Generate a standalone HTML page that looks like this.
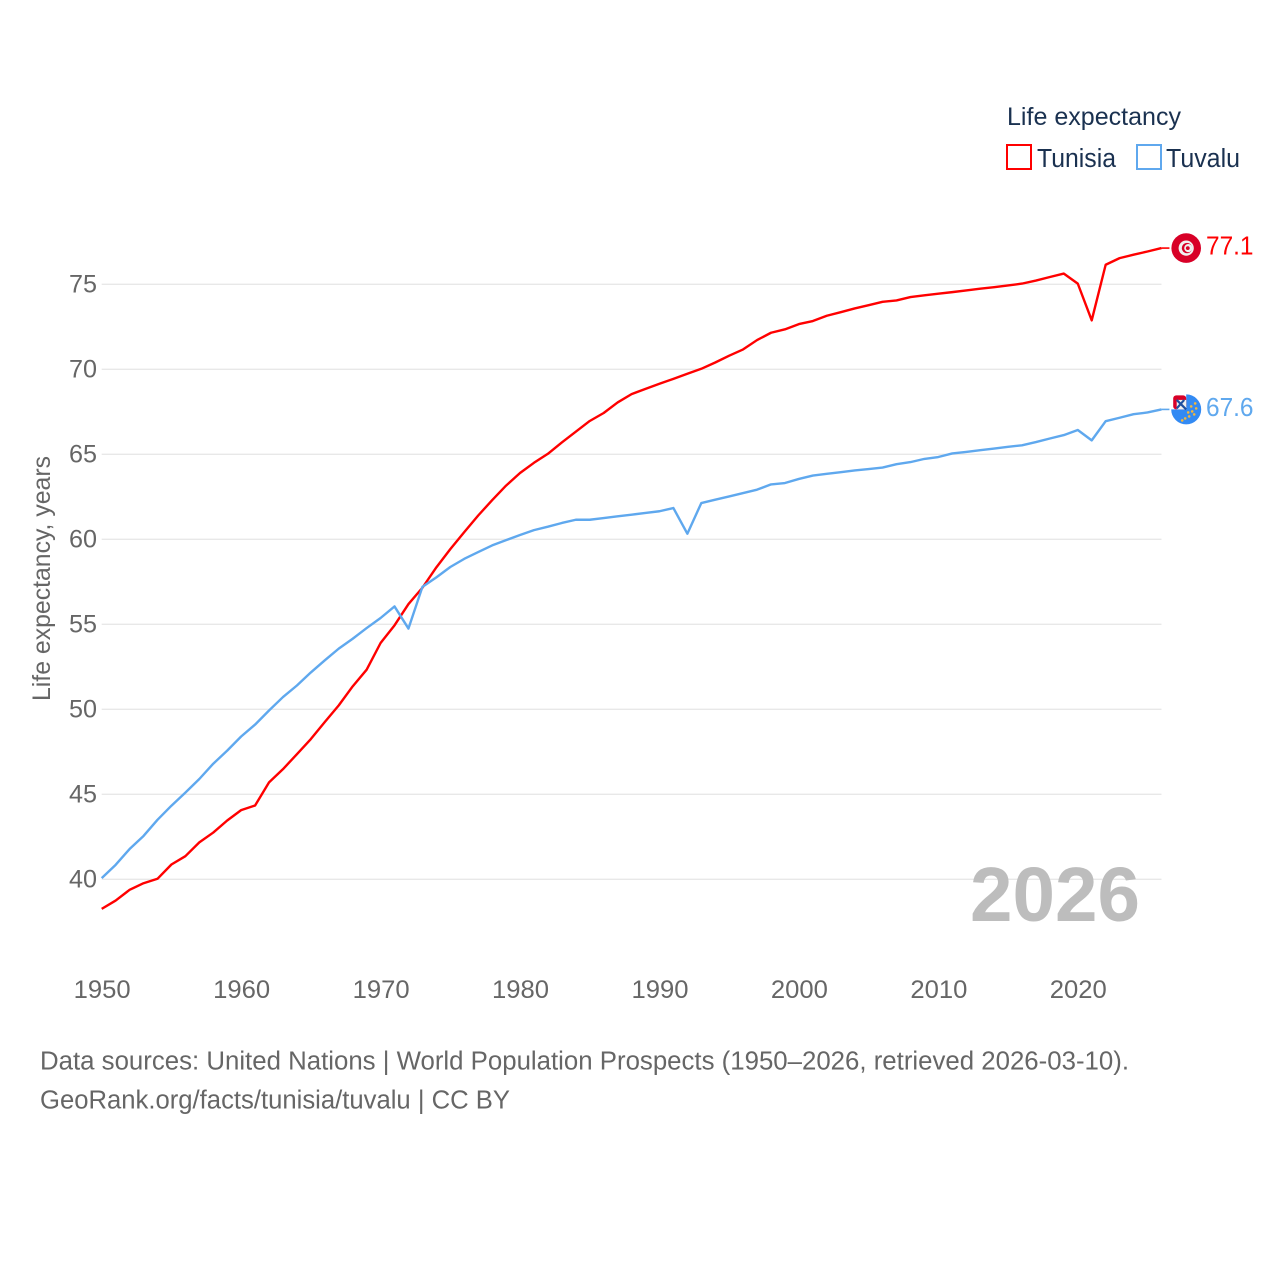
<!DOCTYPE html>
<html lang="en">
<head>
<meta charset="utf-8">
<title>Life expectancy: Tunisia and Tuvalu</title>
<style>
html,body{margin:0;padding:0;background:#fff;width:1280px;height:1280px;overflow:hidden}
svg{display:block}
text{font-family:"Liberation Sans",sans-serif}
</style>
</head>
<body>
<svg id="chart" xmlns="http://www.w3.org/2000/svg" width="1280" height="1280" viewBox="0 0 1280 1280">
  <g id="grid"></g>
  <g id="yticks"></g>
  <g id="xticks"></g>
  <text transform="translate(50,701) rotate(-90)" font-size="25" fill="#666" textLength="245" lengthAdjust="spacingAndGlyphs">Life expectancy, years</text>
  <g id="series"></g>
  <text x="970" y="921" font-size="77" font-weight="700" fill="#bdbdbd" textLength="170" lengthAdjust="spacingAndGlyphs">2026</text>
  <g>
    <text x="1007" y="125" font-size="25" fill="#1a3150" textLength="174" lengthAdjust="spacingAndGlyphs">Life expectancy</text>
    <g>
      <rect x="1007" y="145" width="24" height="24" fill="#fff" stroke="#ff0000" stroke-width="2"/>
      <text x="1037" y="167" font-size="25.5" fill="#1a3150" textLength="79" lengthAdjust="spacingAndGlyphs">Tunisia</text>
    </g>
    <g>
      <rect x="1137" y="145" width="24" height="24" fill="#fff" stroke="#5fa8ee" stroke-width="2"/>
      <text x="1166" y="167" font-size="25.5" fill="#1a3150" textLength="74" lengthAdjust="spacingAndGlyphs">Tuvalu</text>
    </g>
  </g>
  <g id="flag-tunisia">
    <circle r="14.8" fill="#d80027"/>
    <circle r="7.6" fill="#f0f0f0"/>
    <circle cx="0.8" r="5.2" fill="#d80027"/>
    <circle cx="2.1" r="4.1" fill="#f0f0f0"/>
    <circle cx="1.6" r="1.9" fill="#d80027"/>
  </g>
  <g id="flag-tuvalu">
    <path d="M0,-15 A15,15 0 1 1 -15,0 L0,0 Z" fill="#338af3"/>
    <rect x="-13" y="-14" width="13" height="14" rx="3" fill="#d80027"/>
    <rect x="-9.5" y="-9.5" width="9.5" height="9.5" fill="#f0f0f0"/>
    <path d="M-9.5,-9.5 L0,0 M-9.5,-1 L-2,-9.5" stroke="#1f4fa0" stroke-width="2.2" fill="none"/>
    <g fill="#f5b73a">
      <circle cx="9" cy="-6" r="1.3"/><circle cx="5" cy="-3" r="1.3"/><circle cx="10" cy="-1" r="1.3"/>
      <circle cx="6" cy="2" r="1.3"/><circle cx="2" cy="3" r="1.3"/><circle cx="8" cy="5" r="1.3"/>
      <circle cx="3" cy="7" r="1.3"/><circle cx="-1" cy="9" r="1.3"/><circle cx="-4" cy="11" r="1.3"/>
    </g>
  </g>
  <g id="endlabels"></g>
  <g>
    <text x="40" y="1069.5" font-size="25.5" fill="#666" textLength="1089" lengthAdjust="spacingAndGlyphs">Data sources: United Nations | World Population Prospects (1950–2026, retrieved 2026-03-10).</text>
    <text x="40" y="1108.5" font-size="25.5" fill="#666" textLength="470" lengthAdjust="spacingAndGlyphs">GeoRank.org/facts/tunisia/tuvalu | CC BY</text>
  </g>
</svg>
<script>
const startYear = 1950;
const tunisiaValues = [38.26,38.75,39.38,39.77,40.03,40.87,41.36,42.17,42.75,43.46,44.07,44.34,45.7,46.48,47.36,48.25,49.25,50.23,51.35,52.33,53.9,54.94,56.19,57.15,58.35,59.42,60.42,61.4,62.3,63.16,63.9,64.5,65.03,65.7,66.33,66.96,67.43,68.05,68.54,68.85,69.15,69.44,69.74,70.03,70.4,70.8,71.17,71.72,72.15,72.35,72.66,72.84,73.15,73.36,73.58,73.77,73.97,74.05,74.25,74.35,74.45,74.54,74.64,74.74,74.83,74.93,75.04,75.22,75.43,75.63,75.04,72.88,76.15,76.54,76.74,76.93,77.13];
const tuvaluValues = [40.07,40.85,41.78,42.55,43.5,44.33,45.1,45.9,46.8,47.57,48.4,49.1,49.93,50.72,51.4,52.17,52.88,53.57,54.15,54.78,55.37,56.05,54.75,57.2,57.76,58.37,58.85,59.25,59.64,59.95,60.25,60.54,60.74,60.96,61.15,61.15,61.25,61.35,61.45,61.55,61.65,61.84,60.33,62.13,62.33,62.52,62.72,62.92,63.23,63.31,63.55,63.75,63.85,63.95,64.05,64.13,64.22,64.42,64.54,64.73,64.84,65.05,65.14,65.24,65.34,65.44,65.53,65.72,65.93,66.13,66.43,65.82,66.95,67.15,67.36,67.46,67.64];
const yTickValues = [40,45,50,55,60,65,70,75];
const xTickValues = [1950,1960,1970,1980,1990,2000,2010,2020];
const tunisiaEndLabel = "77.1";
const tuvaluEndLabel = "67.6";

const NS = "http://www.w3.org/2000/svg";
function xScale(year){ return 101.7 + (year - 1950) * 13.944; }
function yScale(v){ return 879.3 - (v - 40) * 17; }
const plotRight = xScale(2026);

const gridGroup = document.getElementById('grid');
const yTickGroup = document.getElementById('yticks');
yTickValues.forEach(function(v){
  const line = document.createElementNS(NS,'line');
  
  
  line.setAttribute('x1', xScale(1950));
  line.setAttribute('x2', plotRight);
  line.setAttribute('y1', yScale(v));
  line.setAttribute('y2', yScale(v));
  line.setAttribute('stroke', '#e8e8e8');
  line.setAttribute('stroke-width', '1.4');
  gridGroup.appendChild(line);
  const t = document.createElementNS(NS,'text');
  
  
  t.setAttribute('x', 69);
  t.setAttribute('y', yScale(v) + 8.3);
  t.setAttribute('font-size', '25');
  t.setAttribute('fill', '#666');
  t.setAttribute('textLength', '28');
  t.setAttribute('lengthAdjust', 'spacingAndGlyphs');
  t.textContent = v;
  yTickGroup.appendChild(t);
});

const xTickGroup = document.getElementById('xticks');
xTickValues.forEach(function(y){
  const t = document.createElementNS(NS,'text');
  
  
  t.setAttribute('x', xScale(y) - 28);
  t.setAttribute('y', 998);
  t.setAttribute('font-size', '25');
  t.setAttribute('fill', '#666');
  t.setAttribute('textLength', '57');
  t.setAttribute('lengthAdjust', 'spacingAndGlyphs');
  t.textContent = y;
  xTickGroup.appendChild(t);
});

const seriesGroup = document.getElementById('series');
const endLabelGroup = document.getElementById('endlabels');

function drawSeries(values, color, lineName, leaderName, labelName, labelText, flagId){
  const lastY = yScale(values[values.length - 1]);
  const pts = values.map(function(v,i){ return xScale(startYear + i).toFixed(2) + ',' + yScale(v).toFixed(2); }).join(' ');
  const line = document.createElementNS(NS,'polyline');
  
  
  line.setAttribute('points', pts);
  line.setAttribute('fill', 'none');
  line.setAttribute('stroke', color);
  line.setAttribute('stroke-width', '2.4');
  line.setAttribute('stroke-linejoin', 'round');
  seriesGroup.appendChild(line);

  const leader = document.createElementNS(NS,'line');
  
  
  leader.setAttribute('x1', plotRight);
  leader.setAttribute('x2', plotRight + 8);
  leader.setAttribute('y1', lastY);
  leader.setAttribute('y2', lastY);
  leader.setAttribute('stroke', color);
  leader.setAttribute('stroke-width', '1.6');
  seriesGroup.appendChild(leader);

  document.getElementById(flagId).setAttribute('transform', 'translate(1186.2,' + lastY + ')');

  const t = document.createElementNS(NS,'text');
  
  
  t.setAttribute('x', 1206);
  t.setAttribute('y', lastY + 6.5);
  t.setAttribute('font-size', '25.5');
  t.setAttribute('fill', color);
  t.setAttribute('textLength', '47.5');
  t.setAttribute('lengthAdjust', 'spacingAndGlyphs');
  t.textContent = labelText;
  endLabelGroup.appendChild(t);
}
drawSeries(tunisiaValues, '#ff0000', 'tunisia-line', 'tunisia-leader-line', 'tunisia-end-value', tunisiaEndLabel, 'flag-tunisia');
drawSeries(tuvaluValues, '#5fa8ee', 'tuvalu-line', 'tuvalu-leader-line', 'tuvalu-end-value', tuvaluEndLabel, 'flag-tuvalu');
</script>
</body>
</html>
